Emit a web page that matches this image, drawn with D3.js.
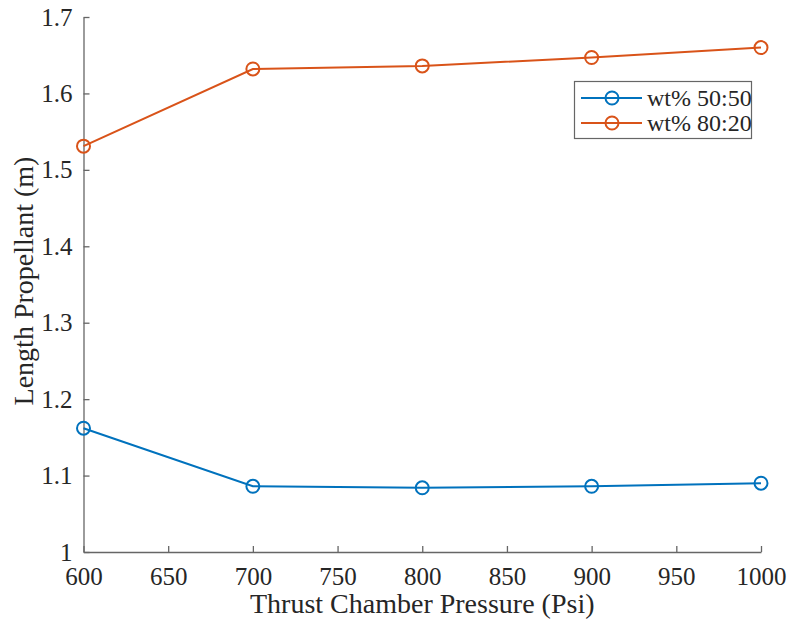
<!DOCTYPE html>
<html>
<head>
<meta charset="utf-8">
<script src="https://cdn.jsdelivr.net/npm/d3@7"></script>
<style>
  body { margin: 0; background: #fff; }
</style>
</head>
<body>
<div id="chart"></div>
<script>
// Data
const pressure = [600, 700, 800, 900, 1000];
const len5050 = [1.162, 1.086, 1.084, 1.086, 1.090];
const len8020 = [1.531, 1.632, 1.636, 1.647, 1.660];
const seriesNames = ["wt% 50:50", "wt% 80:20"];
const xTicks = [600, 650, 700, 750, 800, 850, 900, 950, 1000];
const yTicks = [1, 1.1, 1.2, 1.3, 1.4, 1.5, 1.6, 1.7];

const W = 789, H = 628;
const margin = { top: 17, right: 28, bottom: 76, left: 83.5 },
      width = W - margin.left - margin.right,
      height = H - margin.top - margin.bottom;

const colors = ["#0072BD", "#D95319"];
const axisColor = "#666";
const textColor = "#262626";
const serif = "Liberation Serif";

const svg = d3.select("#chart").append("svg")
  .attr("width", W).attr("height", H)
  .append("g")
  .attr("transform", `translate(${margin.left},${margin.top})`);

const x = d3.scaleLinear().domain([600, 1000]).range([0, width]);
const y = d3.scaleLinear().domain([1, 1.7]).range([height, 0]);

// Axes (ticks point inward)
const xAxis = svg.append("g")
  .attr("transform", `translate(0,${height})`)
  .call(d3.axisBottom(x).tickValues(xTicks).tickSizeInner(-6).tickSizeOuter(0).tickPadding(15).tickFormat(d3.format("d")));

const yAxis = svg.append("g")
  .call(d3.axisLeft(y).tickValues(yTicks).tickSizeInner(-6).tickSizeOuter(0).tickPadding(11).tickFormat(d => d === 1 ? "1" : d3.format(".1f")(d)));

[xAxis, yAxis].forEach(a => {
  a.attr("font-family", serif).attr("font-size", 25);
  a.select(".domain").attr("stroke", axisColor).attr("stroke-width", 1.3);
  a.selectAll(".tick line").attr("stroke", axisColor).attr("stroke-width", 1.3);
  a.selectAll(".tick text").attr("fill", textColor).attr("font-family", serif);
});

// Axis labels
svg.append("text")
  .attr("x", width / 2)
  .attr("y", 613 - margin.top)
  .attr("text-anchor", "middle")
  .attr("font-family", serif)
  .attr("font-size", 28)
  .attr("fill", textColor)
  .text("Thrust Chamber Pressure (Psi)");

svg.append("text")
  .attr("transform", "rotate(-90)")
  .attr("x", -(281 - margin.top))
  .attr("y", 33 - margin.left)
  .attr("text-anchor", "middle")
  .attr("font-family", serif)
  .attr("font-size", 28)
  .attr("fill", textColor)
  .text("Length Propellant (m)");

// Lines and markers
const series = [len5050, len8020];
const line = d3.line().x((d, i) => x(pressure[i])).y(d => y(d));

series.forEach((vals, k) => {
  svg.append("path")
    .datum(vals)
    .attr("fill", "none")
    .attr("stroke", colors[k])
    .attr("stroke-width", 2)
    .attr("d", line);

  svg.selectAll(".dot" + k)
    .data(vals)
    .enter().append("circle")
    .attr("cx", (d, i) => x(pressure[i]))
    .attr("cy", d => y(d))
    .attr("r", 6.5)
    .attr("fill", "none")
    .attr("stroke", colors[k])
    .attr("stroke-width", 2);
});

// Legend
const lg = svg.append("g").attr("transform", `translate(${574.5 - margin.left},${81.5 - margin.top})`);
lg.append("rect")
  .attr("width", 177).attr("height", 57)
  .attr("fill", "#fff").attr("stroke", axisColor).attr("stroke-width", 1.2);

seriesNames.forEach((name, k) => {
  const yy = 16.5 + k * 25;
  lg.append("line")
    .attr("x1", 6.5).attr("x2", 67.5).attr("y1", yy).attr("y2", yy)
    .attr("stroke", colors[k]).attr("stroke-width", 2);
  lg.append("circle")
    .attr("cx", 37.5).attr("cy", yy).attr("r", 6.5)
    .attr("fill", "none").attr("stroke", colors[k]).attr("stroke-width", 2);
  lg.append("text")
    .attr("x", 72.5).attr("y", yy + 8)
    .attr("font-family", serif)
    .attr("font-size", 24)
    .attr("fill", textColor)
    .text(name);
});
</script>
</body>
</html>
